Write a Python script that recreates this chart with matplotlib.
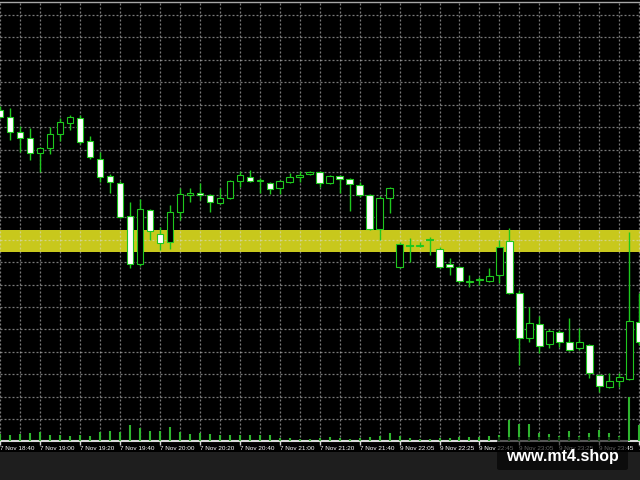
import matplotlib
matplotlib.use('Agg')
import matplotlib.pyplot as plt
from matplotlib.patches import Rectangle, FancyBboxPatch
import numpy as np

# M5 candles, 7 Nov 18:40 -> 10 Nov 00:05 (weekend gap after 7 Nov 21:50)
opens = [1.2445, 1.24415, 1.2434, 1.2431, 1.24235, 1.2426, 1.2433, 1.24385, 1.2441, 1.24295,
         1.24205, 1.2412, 1.24085, 1.2392, 1.2368, 1.2395, 1.2383, 1.2379, 1.2394, 1.24025,
         1.24035, 1.24025, 1.23985, 1.2401, 1.24095, 1.24115, 1.24095, 1.24085, 1.2406, 1.2409,
         1.24115, 1.2413, 1.2414, 1.24085, 1.2412, 1.24105, 1.24075, 1.24025, 1.23855, 1.2401,
         1.23665, 1.2377, 1.23775, 1.2380, 1.23755, 1.2368, 1.23665, 1.2359, 1.2360, 1.23595,
         1.23625, 1.23795, 1.23535, 1.2331, 1.2338, 1.2328, 1.2334, 1.2329, 1.2326, 1.23275,
         1.23125, 1.23065, 1.23095, 1.23105, 1.2339]
highs = [1.2447, 1.2446, 1.2437, 1.2436, 1.24265, 1.24365, 1.2441, 1.24425, 1.24425, 1.2432,
         1.2424, 1.2413, 1.24095, 1.2399, 1.24005, 1.23955, 1.23865, 1.23975, 1.2406, 1.2406,
         1.24085, 1.2403, 1.2406, 1.2410, 1.24145, 1.2415, 1.2411, 1.2409, 1.2410, 1.24135,
         1.24145, 1.24145, 1.24145, 1.24125, 1.24125, 1.2411, 1.2409, 1.2403, 1.2402, 1.24065,
         1.2379, 1.2381, 1.2379, 1.23815, 1.23765, 1.2371, 1.2367, 1.23625, 1.23615, 1.2366,
         1.2380, 1.2386, 1.2355, 1.23465, 1.2342, 1.23355, 1.2335, 1.2341, 1.2336, 1.2328,
         1.2313, 1.23135, 1.23135, 1.2384, 1.23535]
lows = [1.2441, 1.2430, 1.2424, 1.2420, 1.2414, 1.2423, 1.24295, 1.2435, 1.2428, 1.24205,
        1.2409, 1.24035, 1.2391, 1.2366, 1.2367, 1.2380, 1.2375, 1.23755, 1.2390, 1.2399,
        1.2400, 1.2394, 1.2398, 1.24005, 1.24065, 1.2409, 1.24035, 1.2403, 1.2403, 1.24085,
        1.2409, 1.24125, 1.24065, 1.2408, 1.24035, 1.23945, 1.24015, 1.2385, 1.2380, 1.23935,
        1.2366, 1.2369, 1.23765, 1.23725, 1.2366, 1.23625, 1.23585, 1.23565, 1.23575, 1.2359,
        1.23585, 1.2353, 1.23175, 1.2329, 1.23235, 1.2326, 1.23265, 1.23245, 1.2325, 1.2311,
        1.2304, 1.2306, 1.23065, 1.2310, 1.23275]
closes = [1.24415, 1.2434, 1.2431, 1.24235, 1.2426, 1.2433, 1.2439, 1.24415, 1.2429, 1.24215,
          1.24115, 1.2409, 1.23915, 1.2368, 1.23955, 1.23845, 1.23785, 1.2394, 1.2403, 1.24035,
          1.24025, 1.2399, 1.2401, 1.24095, 1.24125, 1.24095, 1.2410, 1.24055, 1.24095, 1.24115,
          1.24125, 1.2414, 1.24085, 1.2412, 1.24105, 1.2408, 1.24025, 1.23855, 1.2401, 1.2406,
          1.2378, 1.23775, 1.2377, 1.23805, 1.23665, 1.23665, 1.23595, 1.23595, 1.23605, 1.2362,
          1.23765, 1.23535, 1.2331, 1.23385, 1.2327, 1.23345, 1.2329, 1.2325, 1.2329, 1.23135,
          1.2307, 1.23095, 1.23115, 1.23395, 1.2329]
volumes = [20, 18, 21, 25, 28, 18, 18, 15, 17, 15,
           26, 30, 28, 48, 40, 31, 31, 42, 28, 21,
           23, 21, 18, 17, 18, 17, 18, 18, 8, 10,
           5, 5, 10, 11, 9, 6, 9, 13, 16, 24,
           16, 9, 5, 5, 8, 9, 13, 11, 13, 14,
           19, 62, 52, 52, 25, 20, 16, 31, 16, 23,
           32, 23, 16, 133, 49]
tick_labels = ['7 Nov 18:40', '7 Nov 19:00', '7 Nov 19:20', '7 Nov 19:40', '7 Nov 20:00',
               '7 Nov 20:20', '7 Nov 20:40', '7 Nov 21:00', '7 Nov 21:20', '7 Nov 21:40',
               '9 Nov 22:05', '9 Nov 22:25', '9 Nov 22:45', '9 Nov 23:05', '9 Nov 23:25',
               '9 Nov 23:45', '10 Nov 00:05']
zone_top = 1.23848
zone_bottom = 1.23741

green = '#1ec81e'
fig = plt.figure(figsize=(6.4, 4.8), dpi=100, facecolor='#1e1e1e')
fig.patches.append(Rectangle((0, 28 / 480), 1, 1, transform=fig.transFigure,
                             facecolor='black', edgecolor='none', zorder=-10))

rect = [0, 39 / 480, 1, 439 / 480]
ax = fig.add_axes(rect)
ax.set_facecolor('black')
x = np.arange(len(opens))
ax.set_xlim(0.07, 64.07)
ax.set_ylim(1.22795, 1.2499)

# support zone
ax.axhspan(zone_bottom, zone_top, color='#c8c81c', zorder=1, lw=0)

# grid
for gy in 1.24925 - 0.001123 * np.arange(19):
    ax.axhline(gy, color='#dcdcdc', alpha=0.55, lw=0.9, ls=(0, (1.6, 1.6)), zorder=2)
for gx in np.arange(0, 66, 2):
    ax.axvline(gx, color='#dcdcdc', alpha=0.55, lw=0.9, ls=(0, (1.6, 1.6)), zorder=2)

# candles
ax.vlines(x, lows, highs, color=green, lw=1.0, zorder=3)
for i in range(len(opens)):
    o, c = opens[i], closes[i]
    bull = c >= o
    h = max(abs(c - o), 0.00003)
    ax.add_patch(Rectangle((i - 0.32, min(o, c)), 0.64, h,
                           facecolor='black' if bull else 'white',
                           edgecolor=green, lw=0.8, zorder=4))

# volumes
axv = fig.add_axes(rect, sharex=ax)
axv.patch.set_visible(False)
axv.axis('off')
axv.set_ylim(0, 1317)
axv.vlines(x, 0, volumes, color='#2fb52f', lw=1.5)

for s in ['left', 'right']:
    ax.spines[s].set_visible(False)
ax.spines['top'].set_color('#a8a8a8')
ax.spines['top'].set_linewidth(1)
ax.spines['bottom'].set_color('#d8d8d8')
ax.spines['bottom'].set_linewidth(1.5)
ax.set_yticks([])
ax.set_xticks(np.arange(0, 65, 4))
ax.set_xticklabels(tick_labels, ha='left', fontsize=4.6, color='white',
                   family='Liberation Sans')
ax.tick_params(axis='x', length=3, width=1, color='#d8d8d8', pad=0.5)

# watermark
fig.patches.append(FancyBboxPatch((497 / 640, 10 / 480), 131 / 640, 33 / 480,
                                  boxstyle='round,pad=0,rounding_size=0.004',
                                  transform=fig.transFigure, facecolor='black',
                                  edgecolor='none', alpha=0.6, zorder=5))
fig.text(562 / 640, 1 - 456 / 480, 'www.mt4.shop', ha='center', va='center',
         fontsize=11.5, fontweight='bold', color='white', family='Liberation Sans', zorder=6)

fig.savefig('out.png', dpi=100, facecolor=fig.get_facecolor())
